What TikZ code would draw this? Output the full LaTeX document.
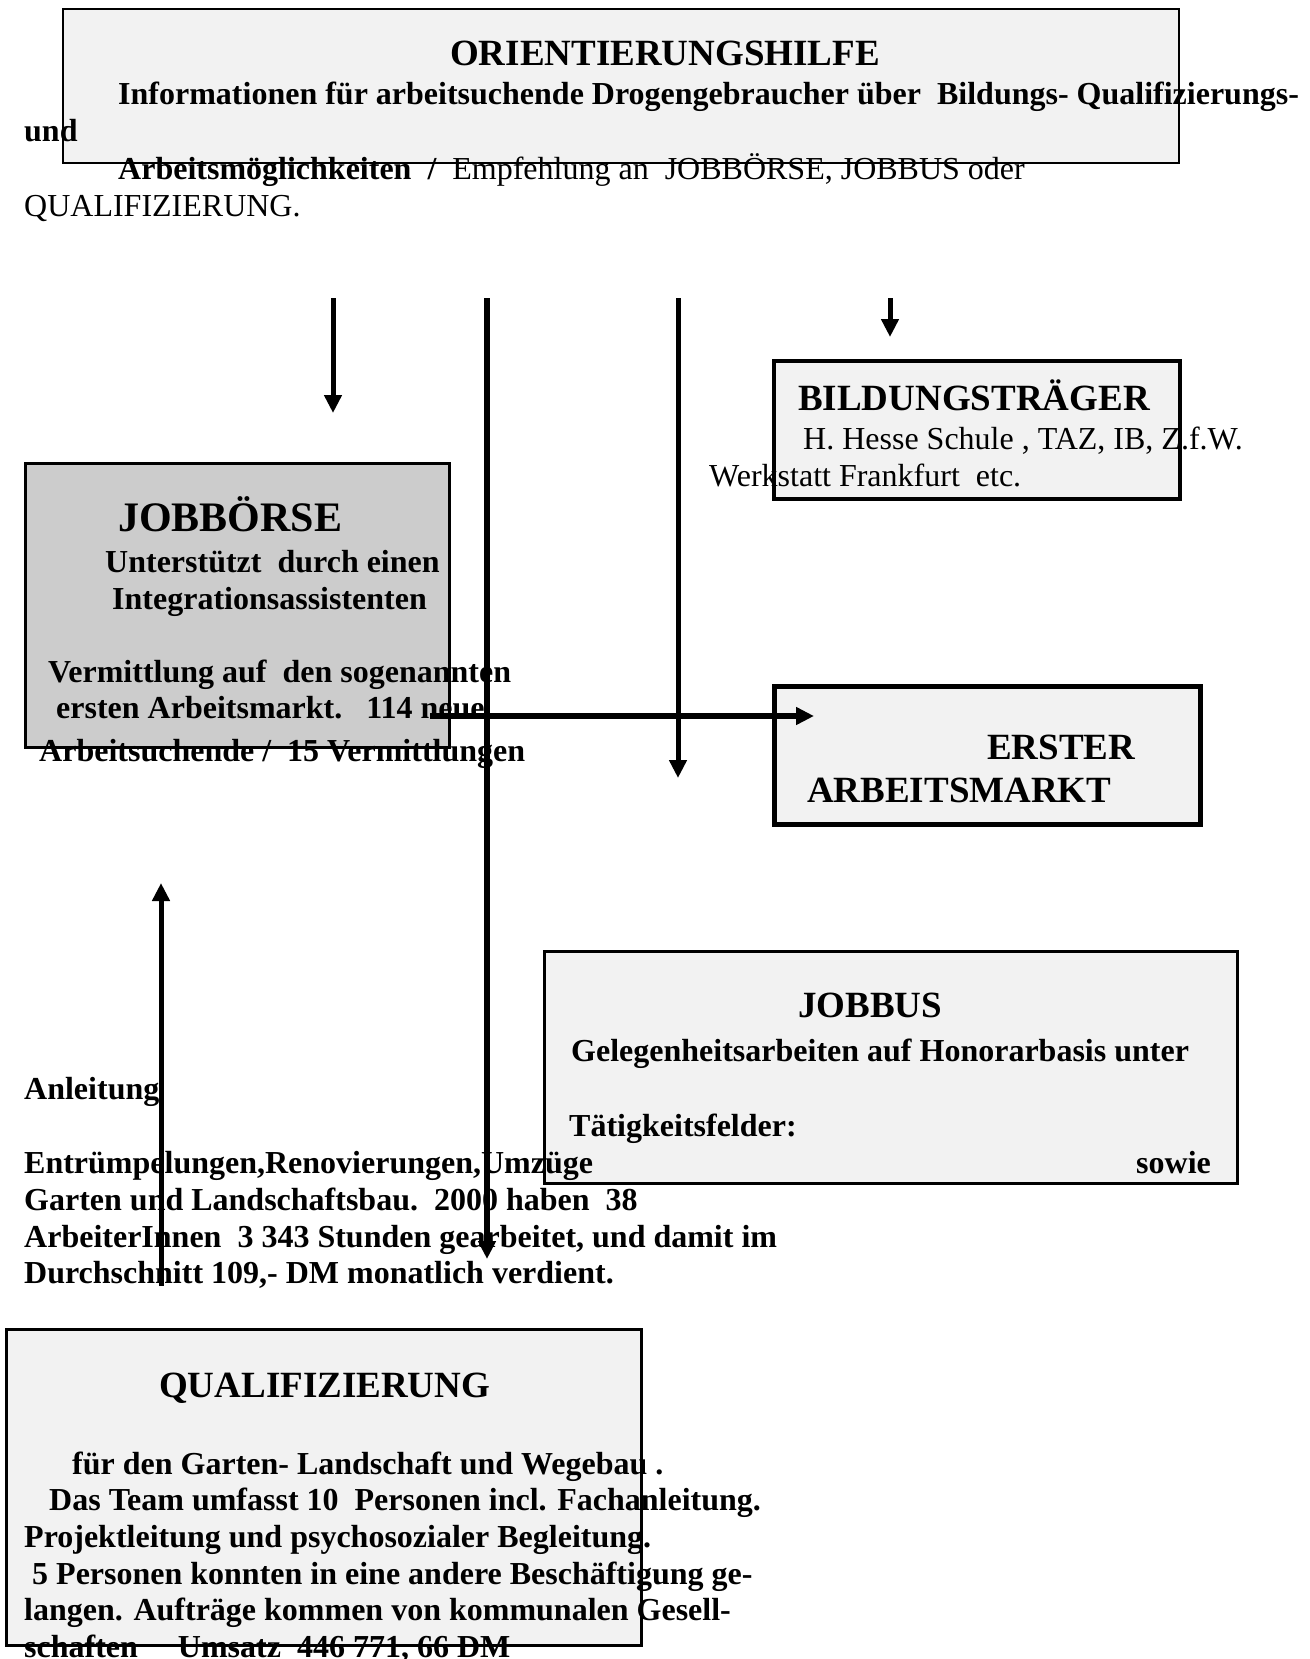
\documentclass[tikz,border=0pt]{standalone}
\usepackage{fontspec}
\setmainfont{Liberation Serif}
\usetikzlibrary{arrows.meta}
\definecolor{boxgray}{HTML}{F2F2F2}
\definecolor{midgray}{HTML}{CCCCCC}
\begin{document}
\begin{tikzpicture}[x=1pt,y=-1pt,
  tb/.style={anchor=base west, inner sep=0pt, font=\fontsize{32}{37}\selectfont\bfseries},
  tr/.style={anchor=base west, inner sep=0pt, font=\fontsize{32}{37}\selectfont},
  hd/.style={anchor=base west, inner sep=0pt, font=\fontsize{37}{42}\selectfont\bfseries},
  boxfill/.style={fill=boxgray, draw=none, inner sep=0pt, outer sep=0pt},
  arr/.style={line width=5pt, -{Triangle[length=18pt,width=17pt]}},
]
\useasboundingbox (0,0) rectangle (1309,1659);

% box fills
\node[boxfill, minimum width=1116pt, minimum height=154pt] (ori) at (621,86) {};
\node[boxfill, minimum width=406pt, minimum height=138pt] (bild) at (977,430) {};
\node[boxfill, fill=midgray, minimum width=424pt, minimum height=284pt] (jb) at (237,605) {};
\node[boxfill, minimum width=426pt, minimum height=138pt] (erster) at (987,755) {};
\node[boxfill, minimum width=693pt, minimum height=232pt] (jobbus) at (890.5,1067) {};
\node[boxfill, minimum width=635pt, minimum height=316pt] (quali) at (323.5,1487) {};

% ORIENTIERUNGSHILFE texts
\node[hd] (oriT) at (450,66) {ORIENTIERUNGSHILFE};
\node[tb] (ori1) at (118,105) {Informationen für arbeitsuchende Drogengebraucher über\ \ Bildungs- Qualifizierungs-};
\node[tb] (ori2) at (24,142) {und};
\node[tr] (ori3) at (118,179) {{\bfseries Arbeitsmöglichkeiten\ \ /}\ \ Empfehlung an\ \ JOBBÖRSE, JOBBUS oder};
\node[tr] (ori4) at (24,216) {QUALIFIZIERUNG.};

% BILDUNGSTRAEGER texts
\node[hd] (bildT) at (798,410) {BILDUNGSTRÄGER};
\node[tr] (bild1) at (803,449) {H. Hesse Schule , TAZ, IB, Z.f.W.};
\node[tr] (bild2) at (709,486) {Werkstatt Frankfurt\ \ etc.};

% JOBBOERSE texts
\node[hd, font=\fontsize{42}{48}\selectfont\bfseries] (jbT) at (118,531) {JOBBÖRSE};
\node[tb] (jb1) at (105,572) {Unterstützt\ \ durch einen};
\node[tb] (jb2) at (112,609) {Integrationsassistenten};
\node[tb] (jb3) at (48,682) {Vermittlung auf\ \ den sogenannten};
\node[tb] (jb4) at (56,718) {ersten Arbeitsmarkt.\ \ \ 114 neue};
\node[tb] (jb5) at (39,761) {Arbeitsuchende /\ \ 15 Vermittlungen};

% ERSTER ARBEITSMARKT texts
\node[hd] (erT1) at (987,759) {ERSTER};
\node[hd] (erT2) at (807,802) {ARBEITSMARKT};

% JOBBUS texts
\node[hd] (busT) at (798,1017) {JOBBUS};
\node[tb] (bus1) at (571,1061) {Gelegenheitsarbeiten auf Honorarbasis unter};
\node[tb] (bus2) at (569,1136) {Tätigkeitsfelder:};
\node[tb] (bus3) at (1136,1173) {sowie};

% left free text
\node[tb] (l1) at (24,1099) {Anleitung};
\node[tb] (l2) at (24,1173) {Entrümpelungen,Renovierungen,Umzüge};
\node[tb] (l3) at (24,1210) {Garten und Landschaftsbau.\ \ 2000 haben\ \ 38};
\node[tb] (l4) at (24,1247) {ArbeiterInnen\ \ 3 343 Stunden gearbeitet, und damit im};
\node[tb] (l5) at (24,1283) {Durchschnitt 109,- DM monatlich verdient.};

% QUALIFIZIERUNG texts
\node[hd] (qT) at (159,1397) {QUALIFIZIERUNG};
\node[tb] (q1) at (72,1474) {für den Garten- Landschaft und Wegebau .};
\node[tb] (q2) at (49,1510) {Das Team umfasst 10\ \ Personen incl. Fachanleitung.};
\node[tb] (q3) at (24,1547) {Projektleitung und psychosozialer Begleitung.};
\node[tb] (q4) at (32,1584) {5 Personen konnten in eine andere Beschäftigung ge-};
\node[tb] (q5) at (24,1620) {langen. Aufträge kommen von kommunalen Gesell-};
\node[tb] (q6) at (24,1657) {schaften\ \ \ \ \ Umsatz\ \ 446 771, 66 DM};

% box borders on top
\draw[line width=2.5pt] (ori.north west) rectangle (ori.south east);
\draw[line width=4.5pt] (bild.north west) rectangle (bild.south east);
\draw[line width=3pt] (jb.north west) rectangle (jb.south east);
\draw[line width=5pt] (erster.north west) rectangle (erster.south east);
\draw[line width=3pt] (jobbus.north west) rectangle (jobbus.south east);
\draw[line width=3pt] (quali.north west) rectangle (quali.south east);

% connectors
\coordinate (a1s) at (333,298);  \coordinate (a1e) at (333,413);
\coordinate (a2s) at (487,298);  \coordinate (a2e) at (487,1259);
\coordinate (a3s) at (678,298);  \coordinate (a3e) at (678,778);
\coordinate (a4s) at (890,298);  \coordinate (a4e) at (890,337);
\coordinate (hs) at (430,716);   \coordinate (he) at (814,716);
\coordinate (us) at (161,1286);  \coordinate (ue) at (161,883);
\draw[arr] (a1s) -- (a1e);
\draw[arr, line width=6pt] (a2s) -- (a2e);
\draw[arr] (a3s) -- (a3e);
\draw[arr] (a4s) -- (a4e);
\draw[arr, line width=6pt] (hs) -- (he);
\draw[arr] (us) -- (ue);
\end{tikzpicture}
\end{document}
